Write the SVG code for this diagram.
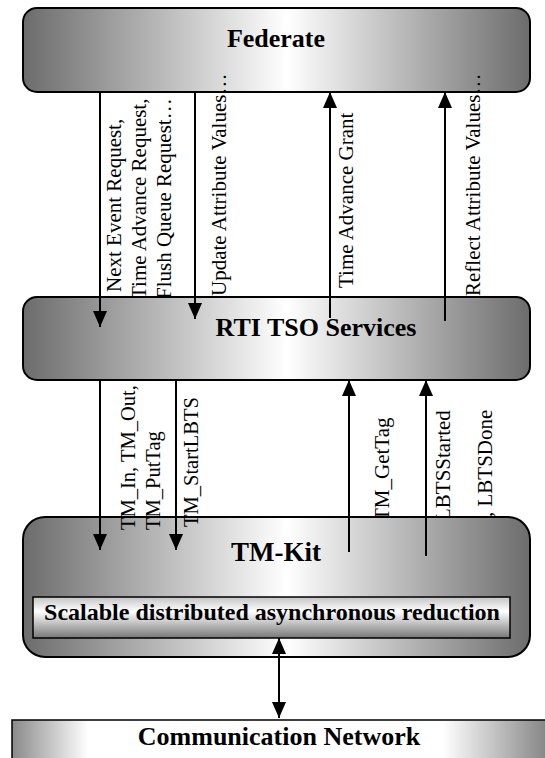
<svg xmlns="http://www.w3.org/2000/svg" width="545" height="758" viewBox="0 0 545 758">
<style>
.box{stroke:#000;stroke-width:2}
.title{font-family:"Liberation Serif","Times New Roman",serif;font-weight:bold;fill:#000;text-anchor:middle}
.lbl{font-family:"Liberation Serif","Times New Roman",serif;font-size:21px;fill:#000}
.lbl2{font-family:"Liberation Serif","Times New Roman",serif;font-size:20.5px;fill:#000}
.conn{stroke:#000;stroke-width:2;fill:none}
</style>
<defs>
<linearGradient id="gH" x1="0" y1="0" x2="1" y2="0">
<stop offset="0" stop-color="#6c6c6c"/>
<stop offset="0.52" stop-color="#ffffff"/>
<stop offset="1" stop-color="#6c6c6c"/>
</linearGradient>
<linearGradient id="gV" x1="0" y1="0" x2="0" y2="1">
<stop offset="0" stop-color="#c4c4c4"/>
<stop offset="0.35" stop-color="#ffffff"/>
<stop offset="1" stop-color="#777777"/>
</linearGradient>
<linearGradient id="gC" x1="0" y1="0" x2="1" y2="0">
<stop offset="0" stop-color="#8a8a8a"/>
<stop offset="0.14" stop-color="#ffffff"/>
<stop offset="0.79" stop-color="#ffffff"/>
<stop offset="1" stop-color="#7a7a7a"/>
</linearGradient>
<marker id="ah" markerUnits="userSpaceOnUse" markerWidth="16" markerHeight="14" refX="16" refY="7" orient="auto-start-reverse" viewBox="0 0 16 14">
<path d="M0,0 L16,7 L0,14 z" fill="#000"/>
</marker>
</defs>

<g id="federate">
<rect class="box" x="23" y="8" width="507" height="84" rx="14" fill="url(#gH)"/>
<text class="title" x="276" y="47" font-size="26">Federate</text>
</g>

<g id="labels-upper">
<text class="lbl" transform="translate(121,292) rotate(-90)">Next Event Request,</text>
<text class="lbl" transform="translate(146,299) rotate(-90)">Time Advance Request,</text>
<text class="lbl" transform="translate(171,299) rotate(-90)">Flush Queue Request…</text>
<text class="lbl" transform="translate(226,296) rotate(-90)">Update Attribute Values…</text>
<text class="lbl" transform="translate(353,288) rotate(-90)">Time Advance Grant</text>
<text class="lbl" transform="translate(480,296) rotate(-90)">Reflect Attribute Values…</text>
</g>

<g id="rti">
<rect class="box" x="23" y="297" width="507" height="83" rx="14" fill="url(#gH)"/>
<text class="title" x="316" y="336" font-size="26">RTI TSO Services</text>
</g>

<g id="labels-lower-right">
<text class="lbl" transform="translate(389,521) rotate(-90)">TM_GetTag</text>
<text class="lbl" transform="translate(450,521) rotate(-90)">LBTSStarted</text>
<text class="lbl" transform="translate(492,517) rotate(-90)">, LBTSDone</text>
</g>

<g id="tmkit">
<rect class="box" x="23" y="517" width="507" height="140" rx="22" fill="url(#gH)"/>
<text class="title" x="276" y="561" font-size="27">TM-Kit</text>
</g>

<g id="reduction">
<rect x="33" y="597" width="477" height="41" fill="url(#gV)" stroke="#000" stroke-width="1.5"/>
<text class="title" x="272" y="620" font-size="24">Scalable distributed asynchronous reduction</text>
</g>

<g id="labels-lower-left">
<text class="lbl2" transform="translate(135,530) rotate(-90)">TM_In, TM_Out,</text>
<text class="lbl2" transform="translate(160,530) rotate(-90)">TM_PutTag</text>
<text class="lbl2" transform="translate(198,527) rotate(-90)">TM_StartLBTS</text>
</g>

<g id="network">
<rect x="12" y="720" width="545" height="50" fill="url(#gC)" stroke="#000" stroke-width="1.5"/>
<text class="title" x="279" y="745" font-size="26">Communication Network</text>
</g>

<g id="connectors">
<line class="conn" x1="100" y1="92" x2="100" y2="327" marker-end="url(#ah)"/>
<line class="conn" x1="195" y1="92" x2="195" y2="319" marker-end="url(#ah)"/>
<line class="conn" x1="330" y1="318" x2="330" y2="92" marker-end="url(#ah)"/>
<line class="conn" x1="445" y1="321" x2="445" y2="92" marker-end="url(#ah)"/>
<line class="conn" x1="100" y1="380" x2="100" y2="550" marker-end="url(#ah)"/>
<line class="conn" x1="176" y1="380" x2="176" y2="550" marker-end="url(#ah)"/>
<line class="conn" x1="349" y1="552" x2="349" y2="380" marker-end="url(#ah)"/>
<line class="conn" x1="426" y1="556" x2="426" y2="380" marker-end="url(#ah)"/>
<line class="conn" x1="279" y1="638" x2="279" y2="718" marker-start="url(#ah)" marker-end="url(#ah)"/>
</g>
</svg>
